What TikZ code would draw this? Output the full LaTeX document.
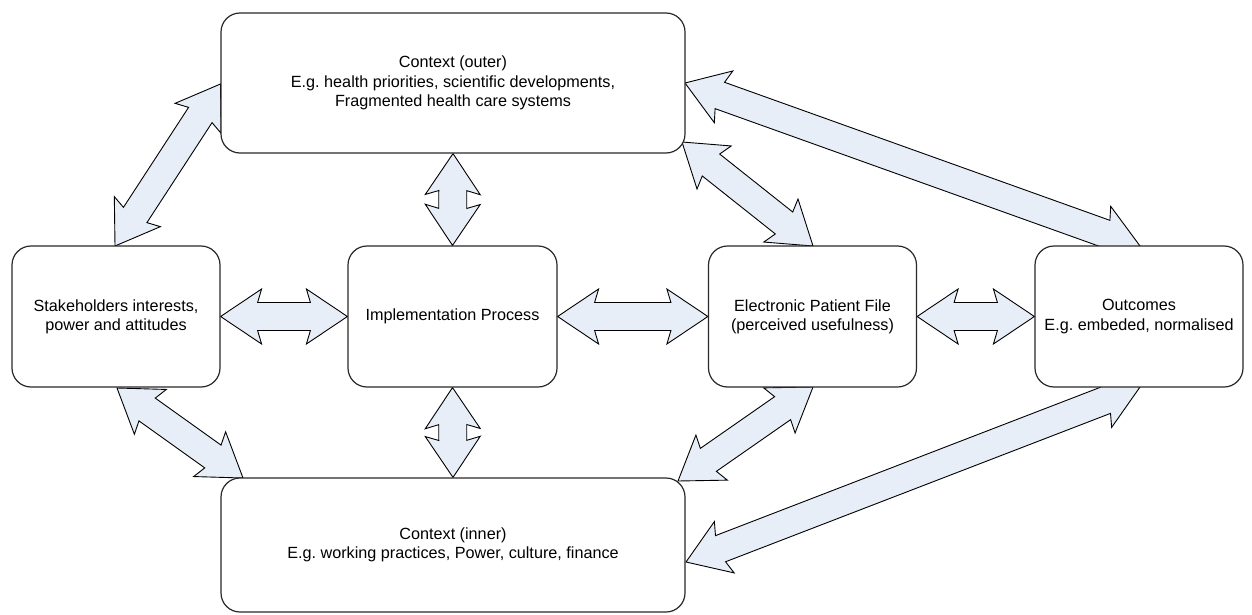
\documentclass[tikz,border=0pt]{standalone}
\usepackage{fontspec}
\setmainfont{Liberation Sans}
\usetikzlibrary{calc,backgrounds}
\frenchspacing

\definecolor{arrowfill}{RGB}{232,238,248}
\definecolor{boxline}{RGB}{40,40,40}

% geometry of the double block arrows (one unit = one drawing pixel = 0.5pt)
\newcommand\blkHead{20.5pt}
\newcommand\blkNeck{18.5pt}
\newcommand\blkBarb{13.75pt}
\newcommand\blkShaft{7pt}

% double-headed block arrow between two named points
\newcommand\dblarrow[2]{%
  \coordinate (da1) at ($(#1)!\blkHead!(#2)$);
  \coordinate (da2) at ($(#1)!\blkNeck!(#2)$);
  \coordinate (db1) at ($(#2)!\blkHead!(#1)$);
  \coordinate (db2) at ($(#2)!\blkNeck!(#1)$);
  \draw[blockarrow] (#1)
    -- ($(da1)!\blkBarb!90:(#2)$) -- ($(da2)!\blkShaft!90:(#2)$)
    -- ($(db2)!\blkShaft!-90:(#1)$) -- ($(db1)!\blkBarb!-90:(#1)$)
    -- (#2)
    -- ($(db1)!\blkBarb!90:(#1)$) -- ($(db2)!\blkShaft!90:(#1)$)
    -- ($(da2)!\blkShaft!-90:(#2)$) -- ($(da1)!\blkBarb!-90:(#2)$)
    -- cycle;
}

\tikzset{
  stage/.style={draw=boxline, line width=0.6pt, fill=white, rounded corners=9.5pt,
    align=center, inner sep=0pt, font=\fontsize{8.1}{9.65}\selectfont},
  blockarrow/.style={draw=black, line width=0.45pt, fill=arrowfill, line join=miter},
}

\begin{document}
\begin{tikzpicture}[x=0.5pt, y=-0.5pt]
  \useasboundingbox (0,0) rectangle (1252,615);

  % boxes
  \node[stage, minimum width=232pt, minimum height=70pt] (outer) at (453,83)
    {Context (outer)\\E.g. health priorities, scientific developments,\\Fragmented health care systems};
  \node[stage, minimum width=104pt, minimum height=70.5pt] (stake) at (116,316.5)
    {Stakeholders interests,\\power and attitudes};
  \node[stage, minimum width=104.5pt, minimum height=70.5pt] (impl) at (452.5,316.5)
    {Implementation Process};
  \node[stage, minimum width=104pt, minimum height=70.5pt] (epf) at (812.5,316.5)
    {Electronic Patient File\\(perceived usefulness)};
  \node[stage, minimum width=104pt, minimum height=70.5pt] (outc) at (1139,316.5)
    {Outcomes\\E.g. embeded, normalised};
  \node[stage, minimum width=232pt, minimum height=67pt] (inner) at (453,545)
    {Context (inner)\\E.g. working practices, Power, culture, finance};

  % arrow end points on the box outlines
  \coordinate (stakeTop) at (115,246);
  \coordinate (outerLeft) at (220.5,84);
  \coordinate (stakeBot) at (117,388);
  \coordinate (innerTopL) at (243,478);
  \coordinate (outerCorner) at (682,142);
  \coordinate (epfTop) at (813,246);
  \coordinate (outerRight) at (685,83);
  \coordinate (outcTop) at (1140,246);
  \coordinate (epfBot) at (813,387);
  \coordinate (innerCorner) at (678,481);
  \coordinate (outcBot) at (1140,387);
  \coordinate (innerRight) at (686,562);

  \begin{scope}[on background layer]
    \dblarrow{stake.east}{impl.west}
    \dblarrow{impl.east}{epf.west}
    \dblarrow{epf.east}{outc.west}
    \dblarrow{outer.south}{impl.north}
    \dblarrow{impl.south}{inner.north}
    \dblarrow{stakeTop}{outerLeft}
    \dblarrow{stakeBot}{innerTopL}
    \dblarrow{outerCorner}{epfTop}
    \dblarrow{outerRight}{outcTop}
    \dblarrow{epfBot}{innerCorner}
    \dblarrow{outcBot}{innerRight}
  \end{scope}
\end{tikzpicture}
\end{document}
